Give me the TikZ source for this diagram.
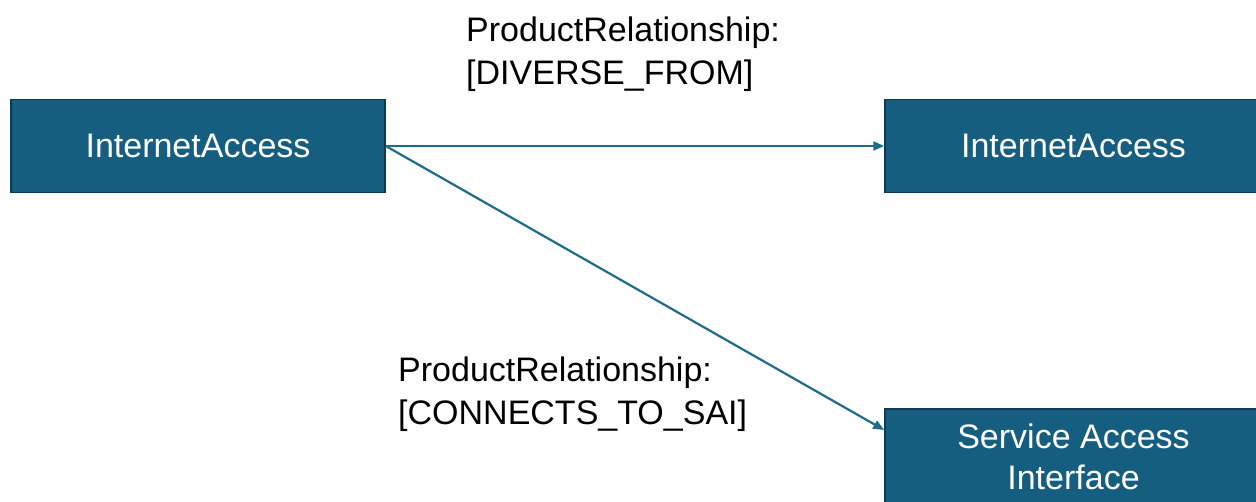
\documentclass[tikz,border=0pt]{standalone}
\usepackage{fontspec}
\setmainfont{Liberation Sans}
\usetikzlibrary{arrows.meta}
\definecolor{boxfill}{HTML}{165E80}
\definecolor{boxline}{HTML}{0E3B52}
\definecolor{arrcol}{HTML}{1E6B8C}
\begin{document}
\begin{tikzpicture}[x=1pt,y=-1pt,
  box/.style={draw=boxline, line width=1.5pt, fill=boxfill, text=white, inner sep=0pt,
    font=\fontsize{34}{41}\selectfont, align=center},
  arr/.style={draw=arrcol, line width=2.2pt, -{Triangle[length=11pt,width=9pt]}},
  lab/.style={anchor=north west, inner sep=0pt, align=left, font=\fontsize{34}{43}\selectfont}]
\useasboundingbox (0,0) rectangle (1256,502);
\node[box, minimum width=374pt, minimum height=93pt] (a) at (198,146) {InternetAccess};
\node[box, minimum width=377pt, minimum height=93pt] (b) at (1073.5,146) {InternetAccess};
\node[box, minimum width=377pt, minimum height=96pt] (c) at (1073.5,457) {Service Access\\Interface};
\draw[arr] (a.east) -- (b.west);
\draw[arr] (a.east) -- ([yshift=27pt]c.west);
\node[lab] (l1) at (466,17) {ProductRelationship:\\{}[DIVERSE\_FROM]};
\node[lab] (l2) at (398,357) {ProductRelationship:\\{}[CONNECTS\_TO\_SAI]};
\end{tikzpicture}
\end{document}
